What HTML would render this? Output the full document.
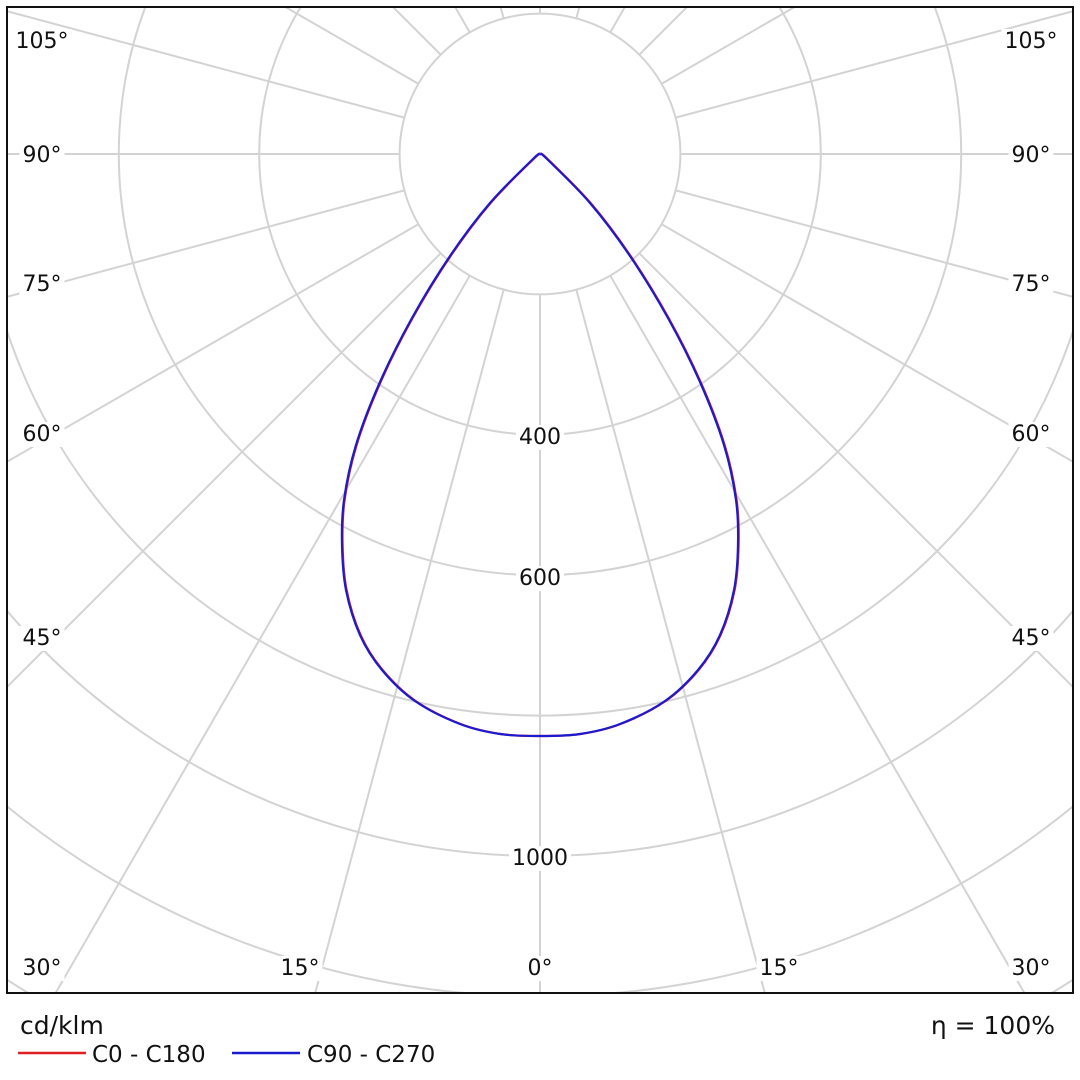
<!DOCTYPE html>
<html><head><meta charset="utf-8"><style>
html,body{margin:0;padding:0;background:#fff;width:1080px;height:1080px;overflow:hidden}
svg{display:block}
svg text{font-family:"DejaVu Sans","Liberation Sans",sans-serif}
</style></head><body>
<svg id="s" width="1080" height="1080" xmlns="http://www.w3.org/2000/svg">
<defs><clipPath id="c"><rect x="7" y="7" width="1066" height="986"/></clipPath></defs>
<g id="grid" clip-path="url(#c)" stroke="#d3d3d3" stroke-width="2" fill="none"></g>
<g id="curves" clip-path="url(#c)" fill="none" stroke-width="2.2"></g>
<g id="labels" font-size="22" fill="#111"></g>
<rect x="7" y="7" width="1066" height="986" fill="none" stroke="#111" stroke-width="2"/>
<text x="20" y="1034" font-size="25" fill="#111">cd/klm</text>
<line x1="18" y1="1053" x2="86" y2="1053" stroke="#e02020" stroke-width="2.5"/>
<text x="92" y="1062" font-size="23" fill="#111">C0 - C180</text>
<line x1="232" y1="1053" x2="300" y2="1053" stroke="#1a1ad0" stroke-width="2.5"/>
<text x="307" y="1062" font-size="23" fill="#111">C90 - C270</text>
<text x="1055" y="1034" font-size="25" fill="#111" text-anchor="end">η = 100%</text>
</svg>
<script>
const NS="http://www.w3.org/2000/svg",cx=540,cy=154;
function el(p,t,a,txt){const e=document.createElementNS(NS,t);for(const k in a)e.setAttribute(k,a[k]);if(txt)e.textContent=txt;p.appendChild(e);return e;}
const g=document.getElementById('grid');
for(let i=1;i<=9;i++)el(g,'circle',{cx,cy,r:140.4*i});
for(let k=-12;k<=12;k++){const a=k*15*Math.PI/180;const dx=Math.sin(a),dy=Math.cos(a);
el(g,'line',{x1:cx+dx*140,y1:cy+dy*140,x2:cx+dx*1600,y2:cy+dy*1600});}
const L=document.getElementById('labels');
function lab(x,y,t,anc){const tx=el(L,'text',{x,y:y+8,'text-anchor':anc||'middle'},t);
const b=tx.getBBox();const r=el(L,'rect',{x:b.x-3,y:b.y,width:b.width+6,height:b.height,fill:'#fff'});L.insertBefore(r,tx);}
[[40,"105°"],[154,"90°"],[283,"75°"],[433,"60°"],[637,"45°"]].forEach(([y,t])=>{lab(42,y,t);lab(1031,y,t);});
lab(42,967,"30°");lab(300,967,"15°");lab(540,967,"0°");lab(779,967,"15°");lab(1031,967,"30°");
lab(540,436,"400");lab(540,577,"600");lab(540,857,"1000");
const R=[[540,154],[547,159],[590,203],[630,256],[668,318],[700,382],[724,445],[736,500],[738,545],[734,590],[720,635],[698,670],[665,701],[620,724],[580,734],[540,736]];
let P=R.slice();for(let i=R.length-2;i>=0;i--)P.push([1080-R[i][0],R[i][1]]);
function cr(pts,dx){let d="M"+(pts[0][0]+dx)+","+pts[0][1];
for(let i=0;i<pts.length-1;i++){const p0=pts[Math.max(0,i-1)],p1=pts[i],p2=pts[i+1],p3=pts[Math.min(pts.length-1,i+2)];
d+=`C${p1[0]+(p2[0]-p0[0])/6+dx},${p1[1]+(p2[1]-p0[1])/6} ${p2[0]-(p3[0]-p1[0])/6+dx},${p2[1]-(p3[1]-p1[1])/6} ${p2[0]+dx},${p2[1]}`;}
return d;}
const C=document.getElementById('curves');
el(C,'path',{d:cr(P,0.6),stroke:'#e02020'});
el(C,'path',{d:cr(P,0),stroke:'#1a1ad0'});
</script>
</body></html>
